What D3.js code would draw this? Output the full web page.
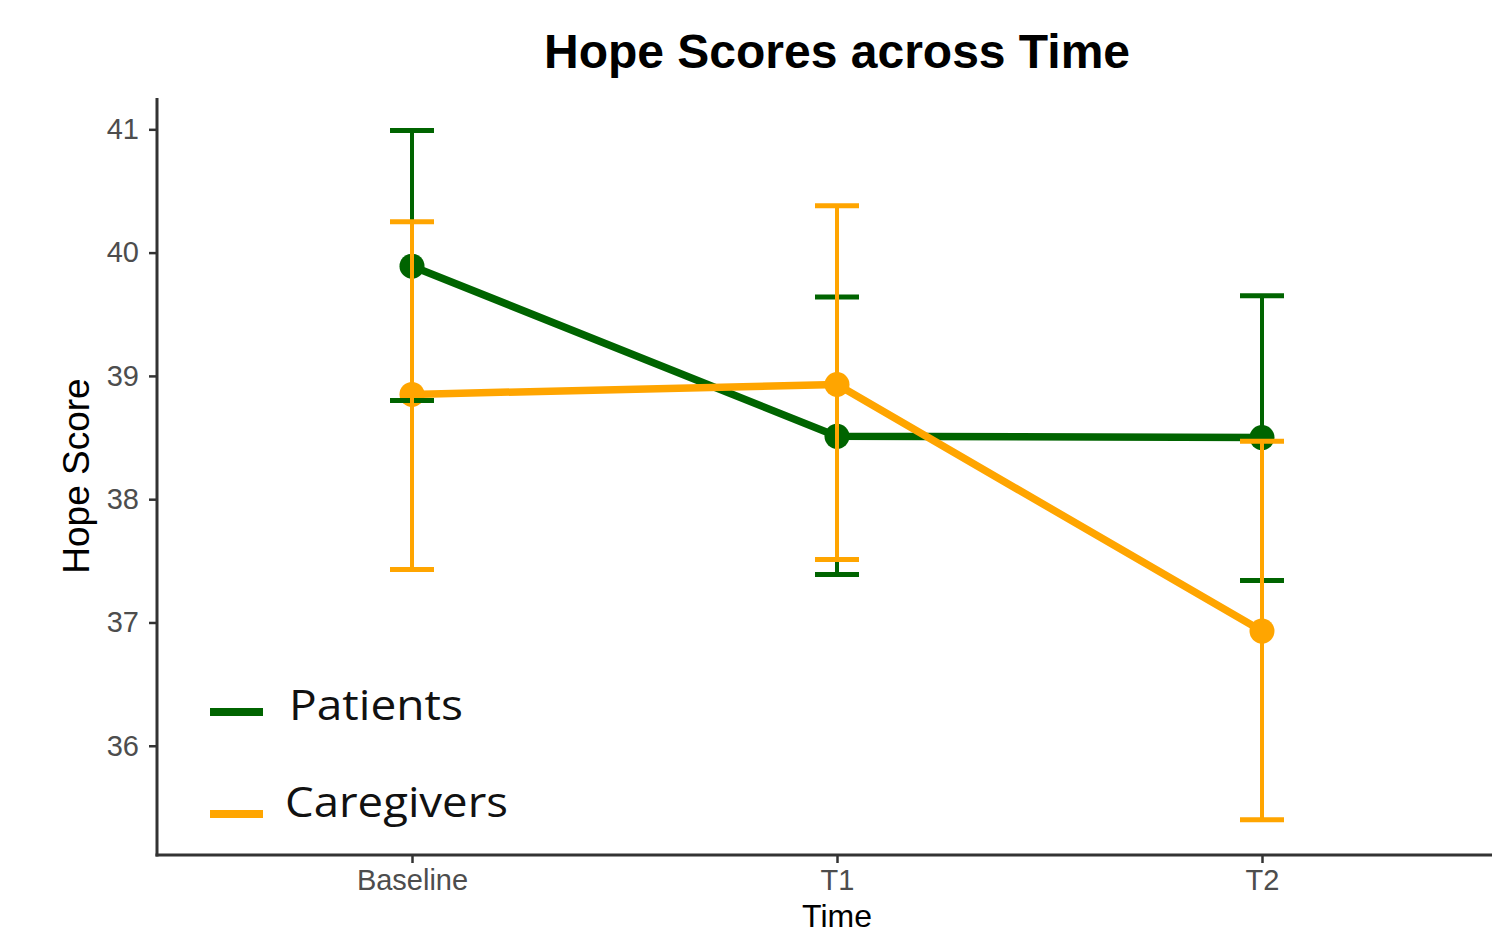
<!DOCTYPE html>
<html>
<head>
<meta charset="utf-8">
<script src="https://cdn.jsdelivr.net/npm/d3@7"></script>
<style>
  html, body { margin: 0; padding: 0; background: #fff; }
  svg { display: block; }
</style>
</head>
<body>
<svg id="chart" width="1492" height="935"></svg>
<script>
const timepoints = ["Baseline", "T1", "T2"];
const groups = ["Patients", "Caregivers"];
const patientMean  = [39.89, 38.51, 38.50];
const patientLower = [38.80, 37.39, 37.34];
const patientUpper = [40.99, 39.64, 39.65];
const caregiverMean  = [38.85, 38.93, 36.93];
const caregiverLower = [37.43, 37.51, 35.40];
const caregiverUpper = [40.25, 40.38, 38.47];
const yTicks = [36, 37, 38, 39, 40, 41];
const colors = ["#006400", "#FFA500"];

const series = [
  { name: groups[0], color: colors[0], mean: patientMean, lower: patientLower, upper: patientUpper },
  { name: groups[1], color: colors[1], mean: caregiverMean, lower: caregiverLower, upper: caregiverUpper }
];

const svg = d3.select("#chart");
const W = 1492, H = 935;
svg.append("rect").attr("width", W).attr("height", H).attr("fill", "#fff");

const x = d3.scalePoint().domain(timepoints).range([157, 1517]).padding(0.6);
const y = d3.scaleLinear().domain([35.114, 41.254]).range([855, 98]);

// Title
svg.append("text")
  .attr("x", 837).attr("y", 68)
  .attr("text-anchor", "middle")
  .attr("font-family", "Liberation Sans, Arial, sans-serif")
  .attr("font-weight", "bold")
  .attr("font-size", 48)
  .attr("fill", "#000")
  .text("Hope Scores across Time");

// Y axis
const yAxis = svg.append("g").attr("transform", "translate(157,0)")
  .call(d3.axisLeft(y).tickValues(yTicks).tickSize(8).tickPadding(10).tickFormat(d3.format("d")));
yAxis.select(".domain").remove();
yAxis.selectAll(".tick line").attr("stroke", "#333").attr("stroke-width", 2.5);
yAxis.selectAll(".tick text")
  .attr("font-family", "Liberation Sans, Arial, sans-serif")
  .attr("font-size", 29).attr("fill", "#4d4d4d");

// X axis
const xAxis = svg.append("g").attr("transform", "translate(0,855)")
  .call(d3.axisBottom(x).tickSize(8).tickPadding(6));
xAxis.select(".domain").remove();
xAxis.selectAll(".tick line").attr("stroke", "#333").attr("stroke-width", 2.5);
xAxis.selectAll(".tick text")
  .attr("font-family", "Liberation Sans, Arial, sans-serif")
  .attr("font-size", 29).attr("fill", "#4d4d4d");

// axis lines
svg.append("line").attr("x1", 157).attr("x2", 157).attr("y1", 98).attr("y2", 856.5)
  .attr("stroke", "#333").attr("stroke-width", 3);
svg.append("line").attr("x1", 155.5).attr("x2", W).attr("y1", 855).attr("y2", 855)
  .attr("stroke", "#333").attr("stroke-width", 3);

// Axis titles
svg.append("text")
  .attr("transform", "translate(89,476) rotate(-90)")
  .attr("text-anchor", "middle")
  .attr("font-family", "Liberation Sans, Arial, sans-serif")
  .attr("font-size", 37).attr("fill", "#000")
  .text("Hope Score");
svg.append("text")
  .attr("x", 837).attr("y", 927)
  .attr("text-anchor", "middle")
  .attr("font-family", "Liberation Sans, Arial, sans-serif")
  .attr("font-size", 32).attr("fill", "#000")
  .text("Time");

// Lines
const line = d3.line().x((d, i) => x(timepoints[i])).y(d => y(d));
series.forEach(s => {
  svg.append("path").datum(s.mean)
    .attr("d", line).attr("fill", "none")
    .attr("stroke", s.color).attr("stroke-width", 7.5)
    .attr("stroke-linejoin", "round");
});
// Points
series.forEach(s => {
  svg.selectAll(null).data(s.mean).enter().append("circle")
    .attr("cx", (d, i) => x(timepoints[i])).attr("cy", d => y(d))
    .attr("r", 12.5).attr("fill", s.color);
});
// Error bars
const capHalf = 22;
series.forEach(s => {
  const g = svg.append("g");
  timepoints.forEach((t, i) => {
    const cx = x(t);
    g.append("line").attr("x1", cx).attr("x2", cx)
      .attr("y1", y(s.lower[i])).attr("y2", y(s.upper[i]))
      .attr("stroke", s.color).attr("stroke-width", 4);
    [s.lower[i], s.upper[i]].forEach(v => {
      g.append("line").attr("x1", cx - capHalf).attr("x2", cx + capHalf)
        .attr("y1", y(v)).attr("y2", y(v))
        .attr("stroke", s.color).attr("stroke-width", 5);
    });
  });
});

// Legend
const legendY = [712, 814];
const legendTextY = [720, 817];
const legendTextX = [289, 285];
const legendTextLen = [174, 223];
series.forEach((s, i) => {
  svg.append("line").attr("x1", 210).attr("x2", 263)
    .attr("y1", legendY[i]).attr("y2", legendY[i])
    .attr("stroke", s.color).attr("stroke-width", 8);
  svg.append("text")
    .attr("x", legendTextX[i]).attr("y", legendTextY[i])
    .attr("font-family", "Open Sans, sans-serif")
    .attr("font-size", 42).attr("fill", "#111")
    .attr("textLength", legendTextLen[i]).attr("lengthAdjust", "spacingAndGlyphs")
    .text(s.name);
});
</script>
</body>
</html>
